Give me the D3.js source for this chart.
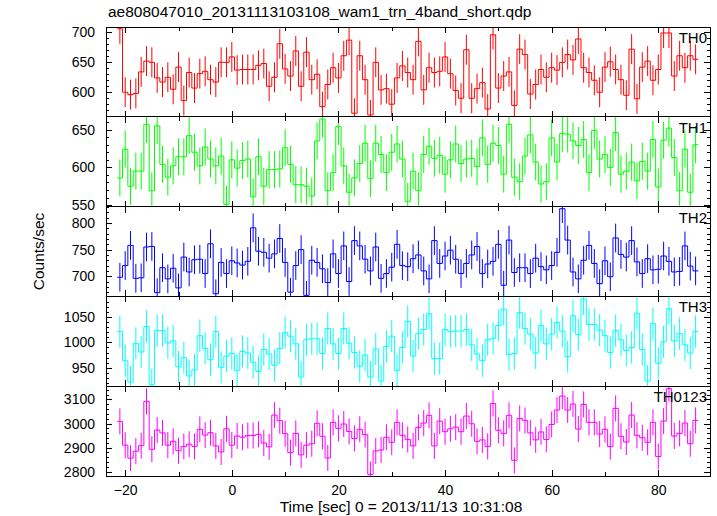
<!DOCTYPE html>
<html><head><meta charset="utf-8">
<script src="https://cdn.jsdelivr.net/npm/d3@7"></script>
<style>
html,body{margin:0;padding:0;background:#fff}
svg{display:block}
text{font-family:"Liberation Sans",Arial,Helvetica,sans-serif;fill:#000}
</style>
</head><body>
<svg id="c" width="717" height="516"></svg>
<script>
// ---- data ----
const times = [-21,-20,-19,-18,-17,-16,-15,-14,-13,-12,-11,-10,-9,-8,-7,-6,-5,-4,-3,-2,
  -1,0,1,2,3,4,5,6,7,8,9,10,11,12,13,14,15,16,17,18,19,20,21,22,23,24,25,26,27,28,
  29,30,31,32,33,34,35,36,37,38,39,40,41,42,43,44,45,46,47,48,49,50,51,52,53,54,55,56,57,58,
  59,60,61,62,63,64,65,66,67,68,69,70,71,72,73,74,75,76,77,78,79,80,81,82,83,84,85,86,87];

const th0 = [705,599,595,597,633,651,649,623,616,624,
  604,641,585,632,606,630,634,620,616,649,
  649,658,636,637,637,637,644,647,609,624,
  680,638,626,668,609,666,620,629,575,612,
  640,623,660,686,564,660,620,561,649,603,
  605,579,623,643,632,620,684,603,640,632,
  634,658,630,602,589,670,589,605,615,571,
  695,606,626,633,577,671,662,596,612,637,
  624,640,636,649,662,653,688,640,632,619,
  599,641,650,637,620,594,671,588,641,651,
  619,637,698,698,626,660,640,660,654];

const th1 = [586,624,575,595,595,657,569,655,604,587,
  602,614,614,642,620,602,627,611,602,615,
  551,610,599,609,611,561,614,575,597,597,
  598,626,604,577,577,575,562,635,664,569,
  593,654,602,567,586,605,632,585,632,617,
  593,620,631,611,555,595,569,617,628,612,
  616,591,610,631,605,611,612,601,639,604,
  632,629,591,657,587,581,615,643,607,578,
  581,639,607,645,644,635,629,637,593,649,
  611,617,600,646,591,595,607,582,608,595,
  637,574,636,652,613,569,624,567,630];

const th2 = [698,720,758,696,697,755,756,669,716,695,
  715,678,736,708,731,732,705,761,667,726,
  705,729,725,721,728,791,747,745,734,742,
  771,726,670,720,750,664,730,726,714,688,
  742,705,757,690,767,757,732,710,755,696,
  705,717,760,720,718,733,740,710,695,767,
  724,738,749,732,705,724,740,756,705,723,
  728,760,683,768,707,716,716,705,734,718,
  712,720,745,827,768,708,695,730,758,724,
  686,729,699,772,741,736,767,727,705,733,
  712,713,738,728,708,709,757,719,710];

const th3 = [1021,964,922,998,981,1031,917,1023,1023,999,
  1003,952,970,934,946,1013,988,966,1021,951,
  973,978,945,982,979,961,943,986,977,955,
  988,1019,1012,997,932,1005,1007,1007,978,1027,
  997,978,1027,998,980,953,975,932,987,924,
  992,1012,945,990,1041,973,1017,1025,1056,968,
  968,1025,1021,1022,1022,1025,995,977,964,1005,
  1008,1033,1065,976,978,1058,1027,1016,979,1033,
  997,1016,1039,1022,972,1052,1015,1085,1035,1035,
  1024,1013,980,1023,1005,984,990,1057,986,924,
  1037,959,1001,1066,1003,1017,995,979,1021];

const th0123 = [3009,2910,2856,2885,2908,3092,2893,2973,2961,2910,
  2926,2887,2905,2914,2905,2976,2952,2962,2907,2882,
  2978,2910,2948,2943,2950,2950,2955,2919,2903,3035,
  3012,2958,2879,2959,2870,2910,2916,3001,2947,2857,
  3005,2980,2998,2967,2938,2976,2954,2788,2886,2890,
  2943,2922,3005,2951,2934,2907,2984,3002,3034,2907,
  3010,2966,2978,2985,2966,3031,2999,2926,2932,2905,
  3083,2972,2959,3034,2847,3021,3013,2961,2932,2965,
  2934,2996,3056,3114,3056,3081,2977,3079,3005,3005,
  2956,2976,2904,3063,2947,2923,3035,2951,2941,2922,
  3005,2863,3010,3145,2948,2959,3002,2916,3013];

const panelNames   = ["TH0","TH1","TH2","TH3","TH0123"];
const panelErrors  = [25, 24.5, 27, 31.5, 54];
const panelDomains = [[558,708],[548,667],[662,831],[914,1090],[2782,3155]];
const panelTicks   = [[600,650,700],[550,600,650],[700,750,800],[950,1000,1050],[2800,2900,3000,3100]];
const panelMinor   = [10,10,10,10,20];
const xTicks       = [-20,0,20,40,60,80];
const xMinorTicks  = [-10,10,30,50,70];
const xDomain      = [-23.6, 89.7];

const titleText = "ae808047010_20131113103108_wam1_trn_4band_short.qdp";
const xLabel = "Time [sec] 0 = 2013/11/13 10:31:08";
const yLabel = "Counts/sec";

// ---- styles / layout ----
const series = [th0, th1, th2, th3, th0123];
const colors = ["#ff0000","#00ff00","#0000ff","#00ffff","#ff00ff"];
const L = 106, R = 710, T = 27, B = 476;
const ph = (B - T) / series.length;
const FONT = '"Liberation Sans",Arial,sans-serif';

const svg = d3.select("#c");
const x = d3.scaleLinear().domain(xDomain).range([L, R]);
const defs = svg.append("defs");

series.forEach((vals, i) => {
  const top = T + i * ph, bot = top + ph;
  const y = d3.scaleLinear().domain(panelDomains[i]).range([bot, top]);
  const cid = "clip" + i;
  defs.append("clipPath").attr("id", cid).append("rect")
    .attr("x", L).attr("y", top).attr("width", R - L).attr("height", ph);

  const dg = svg.append("g").attr("clip-path", `url(#${cid})`);
  const pts = [];
  times.forEach((t, k) => { pts.push([t - 0.5, vals[k]]); pts.push([t + 0.5, vals[k]]); });
  dg.append("path")
    .attr("d", d3.line().x(d => x(d[0])).y(d => y(d[1]))(pts))
    .attr("fill", "none").attr("stroke", colors[i]).attr("stroke-width", 1);
  const e = panelErrors[i];
  dg.selectAll("line.err").data(times.map((t, k) => [t, vals[k]])).join("line")
    .attr("class", "err")
    .attr("x1", d => x(d[0])).attr("x2", d => x(d[0]))
    .attr("y1", d => y(d[1] - e)).attr("y2", d => y(d[1] + e))
    .attr("stroke", colors[i]).attr("stroke-width", 1);

  const ag = svg.append("g").attr("shape-rendering", "crispEdges");
  const dmn = panelDomains[i];
  const minor = d3.range(Math.ceil(dmn[0] / panelMinor[i]) * panelMinor[i], dmn[1], panelMinor[i])
    .filter(v => panelTicks[i].indexOf(v) < 0);

  const left = ag.append("g").attr("transform", `translate(${L},0)`)
    .call(d3.axisLeft(y).tickValues(panelTicks[i]).tickFormat(d3.format("d"))
      .tickSizeInner(-6).tickSizeOuter(0).tickPadding(11));
  left.selectAll("text").style("font-size", "14px").style("font-family", FONT);
  ag.append("g").attr("transform", `translate(${L},0)`)
    .call(d3.axisLeft(y).tickValues(minor).tickSizeInner(-3).tickSizeOuter(0).tickFormat(""));
  ag.append("g").attr("transform", `translate(${R},0)`)
    .call(d3.axisRight(y).tickValues(panelTicks[i]).tickSizeInner(-6).tickSizeOuter(0).tickFormat(""));
  ag.append("g").attr("transform", `translate(${R},0)`)
    .call(d3.axisRight(y).tickValues(minor).tickSizeInner(-3).tickSizeOuter(0).tickFormat(""));

  ag.append("g").attr("transform", `translate(0,${top})`)
    .call(d3.axisTop(x).tickValues(xTicks).tickSizeInner(-6).tickSizeOuter(0).tickFormat(""));
  ag.append("g").attr("transform", `translate(0,${top})`)
    .call(d3.axisTop(x).tickValues(xMinorTicks).tickSizeInner(-4).tickSizeOuter(0).tickFormat(""));
  const isLast = i === series.length - 1;
  const bx = ag.append("g").attr("transform", `translate(0,${bot})`)
    .call(d3.axisBottom(x).tickValues(xTicks).tickSizeInner(-6).tickSizeOuter(0).tickPadding(9));
  if (!isLast) bx.selectAll("text").remove();
  else bx.selectAll("text").style("font-size", "14px").style("font-family", FONT);
  ag.append("g").attr("transform", `translate(0,${bot})`)
    .call(d3.axisBottom(x).tickValues(xMinorTicks).tickSizeInner(-4).tickSizeOuter(0).tickFormat(""));
  ag.selectAll(".domain").remove();
  ag.selectAll(".tick line").attr("stroke", "#000");

  ag.append("rect").attr("x", L).attr("y", top).attr("width", R - L).attr("height", ph)
    .attr("fill", "none").attr("stroke", "#000").attr("stroke-width", 1);

  svg.append("text").attr("x", 707).attr("y", top + 16).attr("text-anchor", "end")
    .style("font-size", "15px").text(panelNames[i]);
});

svg.append("text").attr("x", 108).attr("y", 17).style("font-size", "15.5px").text(titleText);
svg.append("text").attr("x", 401).attr("y", 512).attr("text-anchor", "middle")
  .style("font-size", "15.5px").text(xLabel);
svg.append("text").attr("transform", `translate(44,${(T + B) / 2}) rotate(-90)`)
  .attr("text-anchor", "middle").style("font-size", "15.5px").text(yLabel);
</script>
</body></html>
